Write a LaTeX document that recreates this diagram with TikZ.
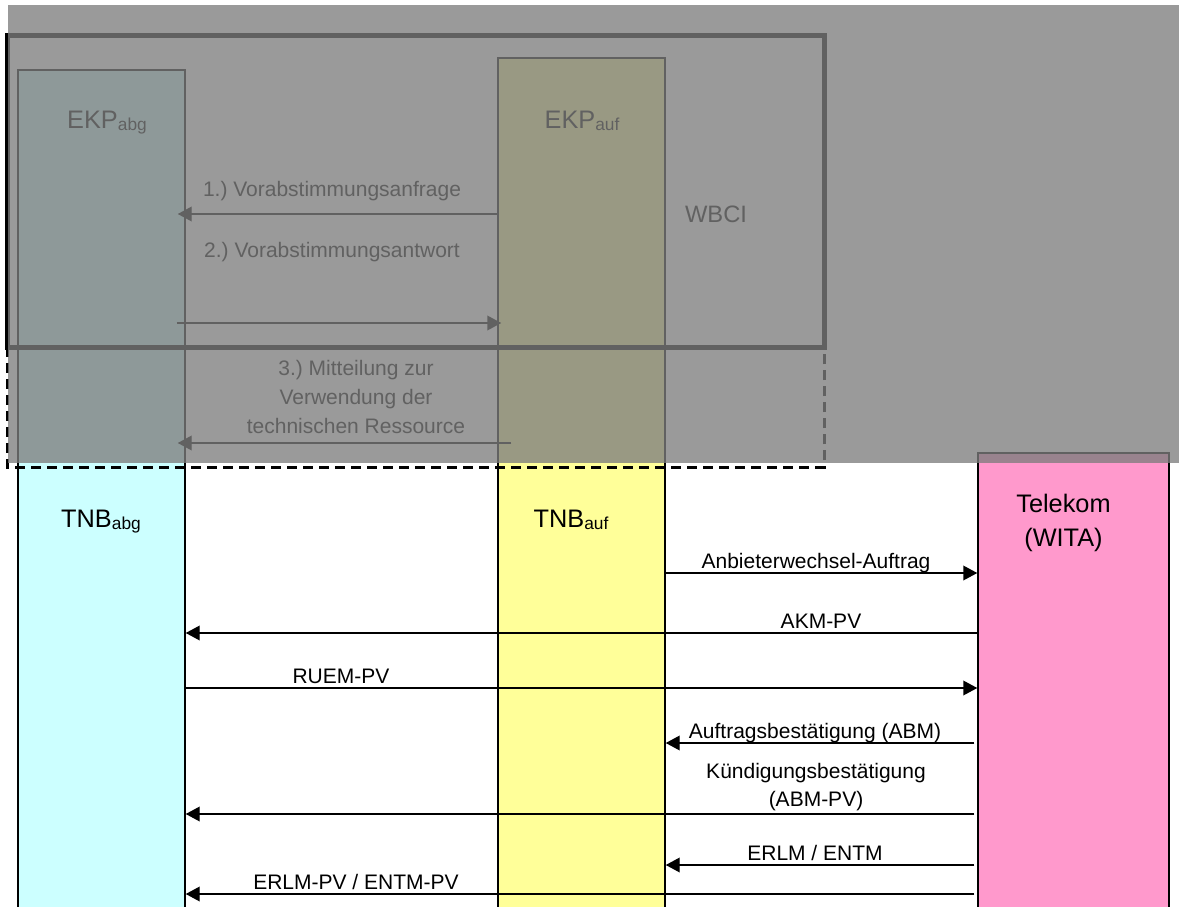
\documentclass[tikz,border=0pt]{standalone}
\usepackage{fontspec}
\setmainfont{Liberation Sans}
\usetikzlibrary{arrows.meta}
\definecolor{abgfill}{HTML}{CCFFFF}
\definecolor{auffill}{HTML}{FFFF99}
\definecolor{telfill}{HTML}{FF99CC}
\newcommand{\lowidx}[1]{\raisebox{-1.5pt}{\fontsize{13}{13}\selectfont #1}}
\frenchspacing
\tikzset{
      partybox/.style={
        draw=black,
        line width=1.1pt,
        minimum width=125.25pt,
        inner sep=0pt
      },
      partylabel/.style={
        font=\fontsize{19}{25.5}\selectfont,
        anchor=base,
        inner sep=0pt
      },
      msglabel/.style={
        font=\fontsize{15.75}{21.4}\selectfont,
        anchor=base,
        inner sep=0pt
      },
      msg/.style={
        -{Triangle[length=10.5pt,width=11pt]},
        line width=1.1pt
      }
    }
\begin{document}
\begin{tikzpicture}[x=0.75pt,y=-0.75pt]
    \useasboundingbox (0,0) rectangle (1179,907);
    \node[partybox, fill=abgfill, minimum height=637.5pt] (abgcol) at (101.5,495) {};
    \node[partybox, fill=auffill, minimum height=646.5pt] (aufcol) at (581.5,489) {};
    \node[partybox, fill=telfill, minimum width=143.25pt, minimum height=350.25pt] (telcol) at (1073.5,686.5) {};
    \node[partylabel] (ekpabg) at (107,128) {EKP\lowidx{abg}};
    \node[partylabel] (ekpauf) at (582,128) {EKP\lowidx{auf}};
    \node[partylabel] (tnbabg) at (101,527) {TNB\lowidx{abg}};
    \node[partylabel] (tnbauf) at (571,527) {TNB\lowidx{auf}};
    \node[partylabel, align=center, anchor=center] (telekom) at (1063.5,523) {Telekom\\(WITA)};
    \node[partylabel, font=\fontsize{17.8}{20}\selectfont] (wbci) at (716,222) {WBCI};
    \node[msglabel] (q1) at (332,196) {1.) Vorabstimmungsanfrage};
    \node[msglabel] (q2) at (332,257) {2.) Vorabstimmungsantwort};
    \node[msglabel, align=center, anchor=center] (q3) at (356,397) {3.) Mitteilung zur\\Verwendung der\\technischen Ressource};
    \node[msglabel] (m1) at (816,568) {Anbieterwechsel-Auftrag};
    \node[msglabel] (m2) at (821,628) {AKM-PV};
    \node[msglabel] (m3) at (341,683) {RUEM-PV};
    \node[msglabel] (m4) at (815,738) {Auftragsbestätigung (ABM)};
    \node[msglabel, align=center, anchor=center] (m5) at (816,787) {Kündigungsbestätigung\\(ABM-PV)};
    \node[msglabel] (m6) at (815,860) {ERLM / ENTM};
    \node[msglabel] (m7) at (356,889) {ERLM-PV / ENTM-PV};
    \draw[msg] (aufcol.west |- 0,214) -- ([xshift=-6pt]abgcol.east |- 0,214);
    \draw[msg] ([xshift=-6.75pt]abgcol.east |- 0,323) -- ([xshift=3pt]aufcol.west |- 0,323);
    \draw[msg] ([xshift=10.5pt]aufcol.west |- 0,443) -- ([xshift=-6pt]abgcol.east |- 0,443);
    \draw[msg] (aufcol.east |- 0,573) -- (telcol.west |- 0,573);
    \draw[msg] (telcol.west |- 0,633) -- (abgcol.east |- 0,633);
    \draw[msg] (abgcol.east |- 0,688) -- (telcol.west |- 0,688);
    \draw[msg] ([xshift=-2.25pt]telcol.west |- 0,743) -- (aufcol.east |- 0,743);
    \draw[msg] ([xshift=-2.25pt]telcol.west |- 0,814) -- (abgcol.east |- 0,814);
    \draw[msg] ([xshift=-2.25pt]telcol.west |- 0,865) -- (aufcol.east |- 0,865);
    \draw[msg] ([xshift=-2.25pt]telcol.west |- 0,894) -- (abgcol.east |- 0,894);
    \draw[line width=2.25pt, dash pattern=on 7.5pt off 4.5pt] (7,347) rectangle (824,467);
    \draw[line width=3.75pt] (7.5,35) rectangle (824,347);
    \fill[black!51, fill opacity=0.78] (8,5) rectangle (1179,463);
    \end{tikzpicture}
\end{document}
